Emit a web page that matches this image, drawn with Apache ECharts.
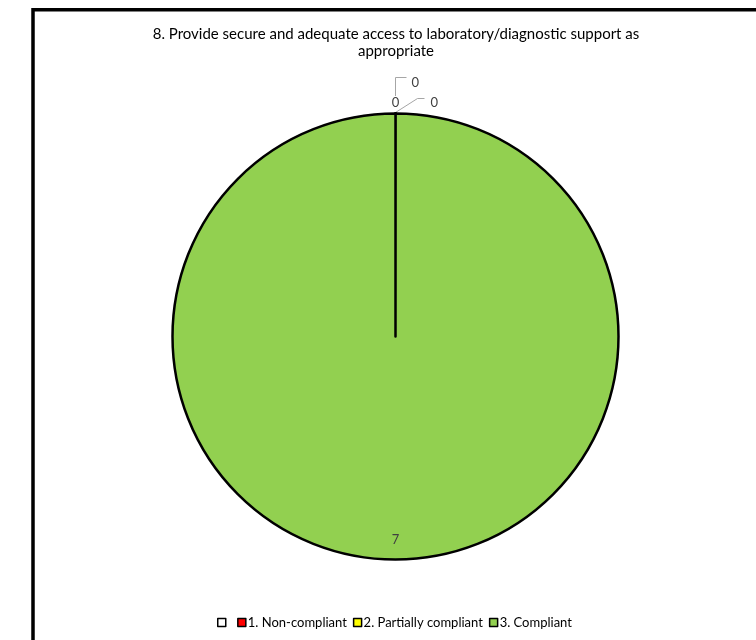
<!DOCTYPE html>
<html>
<head>
<meta charset="utf-8">
<title>Laboratory / diagnostic support compliance</title>
<script src="https://cdn.jsdelivr.net/npm/echarts@6/dist/echarts.min.js"></script>
<style>
  html, body { margin: 0; padding: 0; background: #ffffff; }
  #chart { width: 756px; height: 640px; }
</style>
</head>
<body>
<div id="chart"></div>
<script>
// Chart content
const chartTitle = '8. Provide secure and adequate access to laboratory/diagnostic support as\nappropriate';
const categories = [' ', '1. Non-compliant', '2. Partially compliant', '3. Compliant'];
const counts = [0, 0, 0, 7];

// Styling
const sliceColors = ['#FFFFFF', '#FF0000', '#FFFF00', '#92D050'];
const FONT = 'Lato, "Liberation Sans", sans-serif';
const PIE_CX = 395.5, PIE_CY = 336.5, PIE_R = 223;

const chart = echarts.init(document.getElementById('chart'), null, { renderer: 'canvas' });

// Data-label placement around the top of the pie (zero slices) and inside the big slice
function placeLabel(params) {
  const top = PIE_CY - PIE_R;
  switch (params.dataIndex) {
    case 0:
      return { x: PIE_CX, y: top - 10.5, align: 'center', verticalAlign: 'middle' };
    case 1:
      return {
        x: PIE_CX + 16, y: top - 30.5, align: 'left', verticalAlign: 'middle',
        labelLinePoints: [[PIE_CX, top - 17.5], [PIE_CX, top - 36], [PIE_CX + 11, top - 36]]
      };
    case 2:
      return {
        x: PIE_CX + 35, y: top - 10.5, align: 'left', verticalAlign: 'middle',
        labelLinePoints: [[PIE_CX, top - 1], [PIE_CX + 22, top - 15], [PIE_CX + 29, top - 15]]
      };
    default:
      return { x: PIE_CX, y: PIE_CY + PIE_R * 0.91, align: 'center', verticalAlign: 'middle' };
  }
}

const pieData = categories.map((name, i) => ({
  name: name,
  value: counts[i],
  itemStyle: { color: sliceColors[i] },
  labelLine: { show: i === 1 || i === 2 }
}));

chart.setOption({
  animation: false,
  backgroundColor: '#ffffff',
  title: {
    text: chartTitle,
    left: 391,
    top: 21,
    textAlign: 'center',
    textStyle: {
      fontFamily: FONT,
      fontSize: 15,
      fontWeight: 'normal',
      color: '#000000',
      lineHeight: 17
    }
  },
  legend: {
    top: 616,
    left: 217,
    padding: 0,
    icon: 'rect',
    itemWidth: 8,
    itemHeight: 8,
    itemGap: 6,
    itemStyle: { borderColor: '#000000', borderWidth: 1.5 },
    textStyle: { fontFamily: FONT, fontSize: 13, color: '#000000', padding: [0, 0, 0, -3] },
    selectedMode: false,
    data: categories
  },
  graphic: [{
    type: 'rect',
    silent: true,
    shape: { x: 33, y: 9.7, width: 900, height: 800 },
    style: { fill: 'none', stroke: '#000000', lineWidth: 3.5 }
  }],
  series: [{
    type: 'pie',
    center: [PIE_CX, PIE_CY],
    radius: PIE_R,
    startAngle: 90,
    clockwise: true,
    minAngle: 0.01,
    avoidLabelOverlap: false,
    minShowLabelAngle: 0,
    emphasis: { disabled: true },
    itemStyle: { borderColor: '#000000', borderWidth: 2.5 },
    label: {
      show: true,
      formatter: '{c}',
      fontFamily: FONT,
      fontSize: 13,
      color: '#404040'
    },
    labelLine: {
      show: false,
      lineStyle: { color: '#A6A6A6', width: 1 }
    },
    labelLayout: placeLabel,
    data: pieData
  }]
});
</script>
</body>
</html>
